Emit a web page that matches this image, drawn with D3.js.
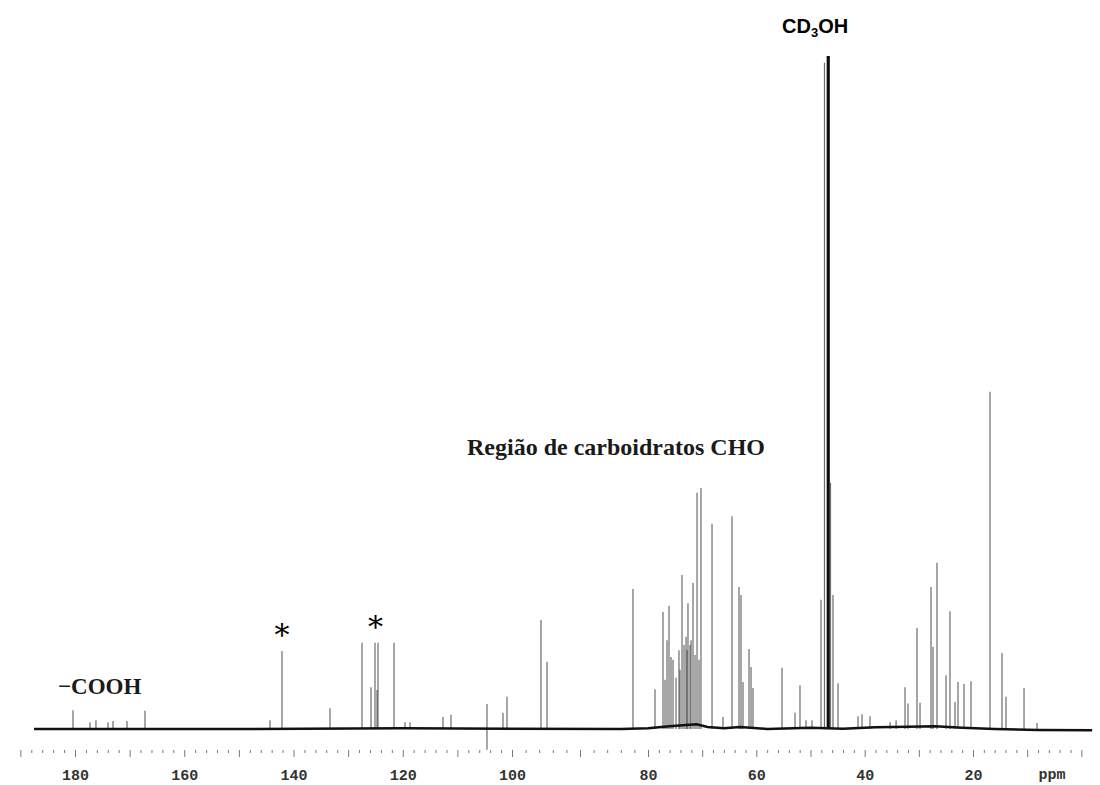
<!DOCTYPE html>
<html>
<head>
<meta charset="utf-8">
<script src="https://cdn.jsdelivr.net/npm/d3@7"></script>
<style>
  body { margin: 0; background: #fff; }
</style>
</head>
<body>
<div id="graph"></div>
<script>
// chemical shifts (ppm) and relative intensities (CD3OH = 100)
const shifts = [
  180.37, 177.25, 176.16, 173.96, 173.04, 170.48, 167.19,
  144.30, 142.11, 133.32, 127.46, 125.81, 125.08, 124.71, 124.53, 121.60, 119.59, 118.67,
  112.63, 111.17, 104.58, 104.58, 101.65, 100.92, 95.74, 94.85, 82.21,
  78.71, 77.23, 76.86, 76.49, 76.12, 75.75, 75.38, 74.83, 74.28, 74.09, 73.72, 73.35,
  72.98, 72.80, 72.62, 72.25, 72.06, 71.69, 71.32, 70.95, 70.58, 70.22, 68.18, 66.15,
  64.49, 63.20, 62.83, 62.46, 61.35, 60.98, 60.62, 55.26, 52.86, 51.94, 50.83, 49.72,
  48.06, 47.42, 46.85, 46.60, 46.31, 45.85, 44.92, 41.23, 40.49, 39.02, 35.3, 34.2,
  32.55, 32.0, 30.34, 29.78, 27.75, 27.38, 26.65, 24.98, 24.25, 23.32, 22.77, 21.66,
  20.37, 16.86, 14.65, 13.91, 10.58, 8.18
];
const intensities = [
  2.8, 1.0, 1.3, 1.0, 1.2, 1.2, 2.7,
  1.3, 11.6, 3.1, 12.8, 6.2, 12.8, 5.8, 12.8, 12.8, 1.0, 1.0,
  1.8, 2.1, 3.7, -3.1, 2.4, 4.8, 16.2, 10.0, 20.8,
  5.9, 17.4, 7.3, 13.2, 18.3, 10.7, 10.3, 7.6, 11.7, 8.8, 22.9, 12.5,
  13.7, 11.7, 18.7, 12.5, 13.2, 21.7, 11.0, 35.1, 10.3, 35.8, 30.5, 1.8,
  31.6, 21.1, 19.9, 7.0, 11.9, 9.2, 6.1, 9.1, 2.4, 6.5, 1.3, 1.3,
  19.2, 99, 100, 100, 36.6, 19.9, 6.8, 1.9, 2.2, 1.9, 1.0, 1.3,
  6.2, 3.8, 15.0, 3.9, 21.1, 12.2, 24.7, 8.0, 17.5, 4.0, 7.0, 6.7,
  7.1, 50.1, 11.3, 4.8, 6.1, 0.9
];
// slow baseline drift [ppm, offset]
const baseline = [
  [187.5, 0], [150, 0], [120, 0.1], [84, 0], [80, 0.1], [76, 0.4], [73, 0.6], [71, 0.7],
  [69, 0.3], [66, 0.1], [63, 0.3], [58, 0], [50, 0.2], [44, 0.05], [38, 0.25], [32, 0.35],
  [27, 0.4], [22, 0.2], [16, 0], [8, -0.15], [-2, -0.2]
];
const labelTicks = [180, 160, 140, 120, 100, 80, 60, 40, 20];
const minorTicks = d3.range(190, -1, -2);

const svgWidth = 1100;
const svgHeight = 785;

const svg = d3.select('#graph')
  .append('svg')
  .attr('width', svgWidth)
  .attr('height', svgHeight)
  .style('background', '#fff');

// the printed axis is not quite uniform, so use a piecewise scale
const x = d3.scaleLinear()
  .domain([180, 100, 80, 20])
  .range([75, 512, 648, 973]);

const y = d3.scaleLinear()
  .domain([0, 100])
  .range([729, 56]);

// peaks (solvent lines drawn dark, the rest grey like the printout)
svg.append('g')
  .selectAll('line')
  .data(shifts)
  .enter()
  .append('line')
  .attr('x1', d => x(d))
  .attr('x2', d => x(d))
  .attr('y1', y(0))
  .attr('y2', (d, i) => y(intensities[i]))
  .attr('stroke', (d, i) => intensities[i] >= 100 ? '#000' : '#333')
  .attr('stroke-opacity', (d, i) => intensities[i] >= 100 ? 0.95 : 0.72)
  .attr('stroke-width', (d, i) => intensities[i] >= 100 ? 1.8 : 1.2);

// baseline
svg.append('path')
  .datum(baseline)
  .attr('fill', 'none')
  .attr('stroke', '#111')
  .attr('stroke-width', 2.5)
  .attr('d', d3.line().x(d => x(d[0])).y(d => y(d[1])));

// minor ticks
svg.append('g')
  .attr('transform', 'translate(0,750)')
  .call(d3.axisBottom(x).tickValues(minorTicks).tickSize(3).tickFormat(''))
  .call(g => g.select('.domain').remove())
  .call(g => g.selectAll('.tick line')
    .attr('stroke', '#777')
    .attr('y2', d => d % 10 === 0 ? 7 : 3));

// tick labels
svg.append('g')
  .attr('transform', 'translate(0,750)')
  .call(d3.axisBottom(x).tickValues(labelTicks).tickSize(0).tickPadding(19))
  .call(g => g.select('.domain').remove())
  .call(g => g.selectAll('text')
    .attr('font-family', '"Liberation Mono", "DejaVu Sans Mono", monospace')
    .attr('font-weight', 'bold')
    .attr('font-size', '15px')
    .attr('fill', '#333'));

svg.append('text')
  .attr('x', 1052)
  .attr('y', 779)
  .attr('text-anchor', 'middle')
  .attr('font-family', '"Liberation Mono", monospace')
  .attr('font-weight', 'bold')
  .attr('font-size', '15px')
  .attr('fill', '#333')
  .text('ppm');

// annotations
const solvent = svg.append('text')
  .attr('x', 782)
  .attr('y', 33)
  .attr('font-family', '"Liberation Sans", Arial, sans-serif')
  .attr('font-weight', 'bold')
  .attr('font-size', '20px')
  .attr('fill', '#000');
solvent.append('tspan').text('CD');
solvent.append('tspan').attr('font-size', '13px').attr('dy', 4).text('3');
solvent.append('tspan').attr('dy', -4).text('OH');

svg.append('text')
  .attr('x', 467)
  .attr('y', 455)
  .attr('font-family', '"Liberation Serif", "Times New Roman", serif')
  .attr('font-weight', 'bold')
  .attr('font-size', '24px')
  .attr('fill', '#1a1a1a')
  .text('Região de carboidratos CHO');

svg.append('text')
  .attr('x', 58)
  .attr('y', 694)
  .attr('font-family', '"Liberation Serif", "Times New Roman", serif')
  .attr('font-weight', 'bold')
  .attr('font-size', '23px')
  .attr('fill', '#1a1a1a')
  .text('−COOH');

svg.selectAll('.star')
  .data([[142.11, 645], [125.0, 637]])
  .enter()
  .append('text')
  .attr('class', 'star')
  .attr('x', d => x(d[0]))
  .attr('y', d => d[1])
  .attr('text-anchor', 'middle')
  .attr('font-family', '"DejaVu Serif", serif')
  .attr('font-size', '30px')
  .attr('fill', '#000')
  .text('*');
</script>
</body>
</html>
